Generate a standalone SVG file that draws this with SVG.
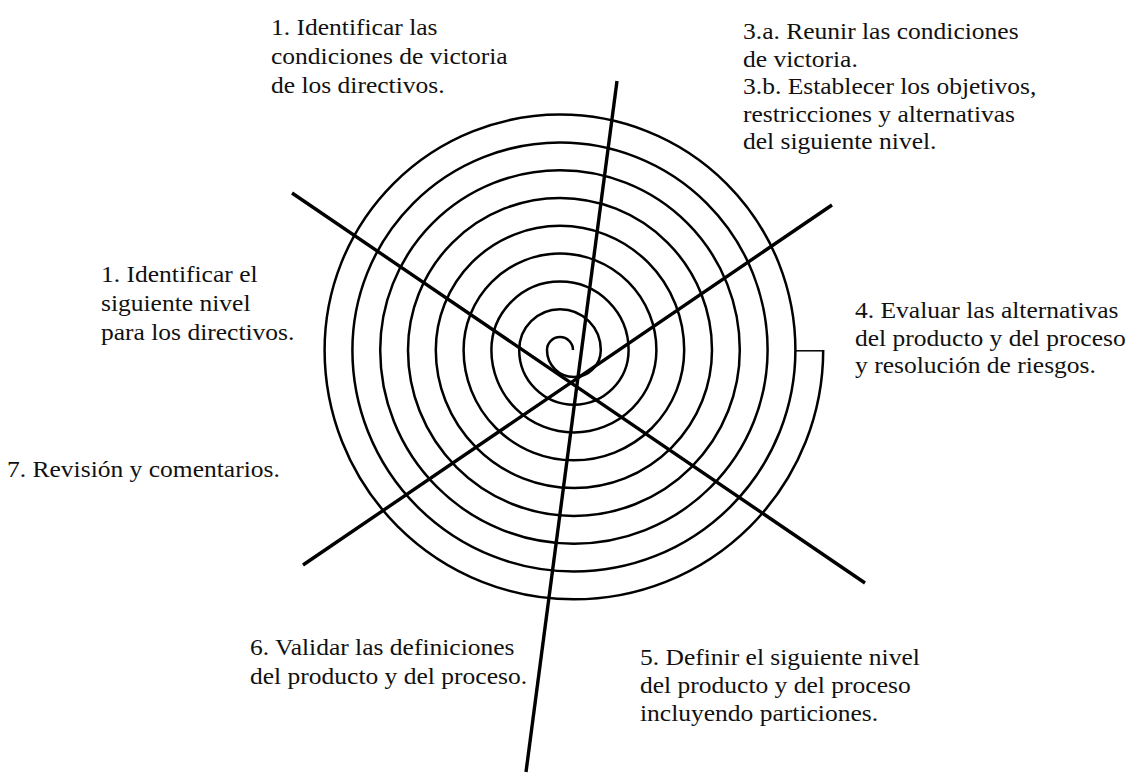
<svg xmlns="http://www.w3.org/2000/svg" width="1137" height="778" viewBox="0 0 1137 778">
<style>
.bg{fill:#ffffff}
.sp{fill:none;stroke:#000;stroke-width:2.5}
.cap{fill:none;stroke:#000;stroke-width:1.5}
.ax{stroke:#000;stroke-width:3.4;stroke-linecap:butt}
text{font-family:"Liberation Serif","Times New Roman",serif;font-size:23px;fill:#111}
</style>
<rect class="bg" x="0" y="0" width="1137" height="778"/>
<g id="spiral">
<path class="sp" d="M 573 350 A 13 13 0 0 0 547 350 A 26.9 26.9 0 0 0 600.8 350 A 40.8 40.8 0 0 0 519.2 350 A 54.7 54.7 0 0 0 628.6 350 A 68.6 68.6 0 0 0 491.4 350 A 82.5 82.5 0 0 0 656.4 350 A 96.4 96.4 0 0 0 463.6 350 A 110.3 110.3 0 0 0 684.2 350 A 124.2 124.2 0 0 0 435.8 350 A 138.1 138.1 0 0 0 712 350 A 152 152 0 0 0 408 350 A 165.9 165.9 0 0 0 739.8 350 A 179.8 179.8 0 0 0 380.2 350 A 193.7 193.7 0 0 0 767.6 350 A 207.6 207.6 0 0 0 352.4 350 A 221.5 221.5 0 0 0 795.4 350 A 235.4 235.4 0 0 0 324.6 350 A 249.3 249.3 0 0 0 823.2 350"/>
<path class="cap" d="M 823.2 350.8 H 795.4"/>
</g>
<g id="connectors">
<line class="ax" x1="617" y1="81" x2="526" y2="772"/>
<line class="ax" x1="292" y1="193" x2="865" y2="583"/>
<line class="ax" x1="303" y1="565" x2="832" y2="205"/>
</g>
<g id="label-1a" transform="translate(271 0) scale(1.11 1)">
<text x="0" y="35">1. Identificar las</text>
<text x="0" y="64">condiciones de victoria</text>
<text x="0" y="93">de los directivos.</text>
</g>
<g id="label-3" transform="translate(743 0) scale(1.11 1)">
<text x="0" y="39.5">3.a. Reunir las condiciones</text>
<text x="0" y="67">de victoria.</text>
<text x="0" y="94.5">3.b. Establecer los objetivos,</text>
<text x="0" y="122">restricciones y alternativas</text>
<text x="0" y="149.5">del siguiente nivel.</text>
</g>
<g id="label-1b" transform="translate(101 0) scale(1.11 1)">
<text x="0" y="282">1. Identificar el</text>
<text x="0" y="311">siguiente nivel</text>
<text x="0" y="340">para los directivos.</text>
</g>
<g id="label-4" transform="translate(855 0) scale(1.11 1)">
<text x="0" y="318">4. Evaluar las alternativas</text>
<text x="0" y="346">del producto y del proceso</text>
<text x="0" y="373">y resolución de riesgos.</text>
</g>
<g id="label-7" transform="translate(7 0) scale(1.11 1)">
<text x="0" y="477">7. Revisión y comentarios.</text>
</g>
<g id="label-6" transform="translate(250 0) scale(1.11 1)">
<text x="0" y="655">6. Validar las definiciones</text>
<text x="0" y="684">del producto y del proceso.</text>
</g>
<g id="label-5" transform="translate(640 0) scale(1.11 1)">
<text x="0" y="665">5. Definir el siguiente nivel</text>
<text x="0" y="693">del producto y del proceso</text>
<text x="0" y="721">incluyendo particiones.</text>
</g>
</svg>
